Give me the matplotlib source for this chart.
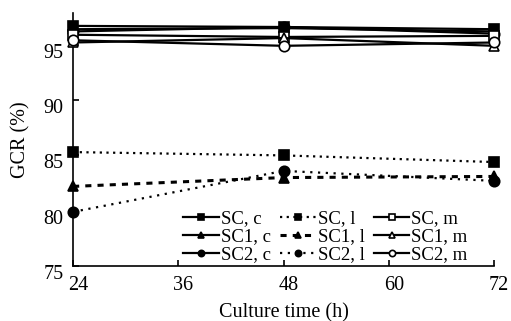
import matplotlib
matplotlib.use('Agg')
import matplotlib.pyplot as plt
from matplotlib.transforms import ScaledTranslation

plt.rcParams['font.family'] = ['Liberation Serif', 'DejaVu Serif']

# data
hours = [24, 48, 72]
sc_c = [96.7, 96.6, 96.4]
sc1_c = [96.4, 96.5, 96.2]
sc2_c = [96.2, 96.6, 96.0]
sc_l = [85.3, 85.0, 84.4]
sc1_l = [82.2, 83.0, 83.1]
sc2_l = [79.9, 83.6, 82.7]
sc_m = [95.9, 95.7, 95.8]
sc1_m = [95.2, 95.6, 94.9]
sc2_m = [95.4, 94.9, 95.2]
xticks = [24, 36, 48, 60, 72]
yticks = [75, 80, 85, 90, 95]

fig = plt.figure(figsize=(5.11, 3.21), dpi=100)
ax = fig.add_axes([0.143, 0.171, 0.824, 0.788])

ms = 7.5
series = [
    (sc_c, 'SC, c', 's', '-', 'k'),
    (sc1_c, 'SC1, c', '^', '-', 'k'),
    (sc2_c, 'SC2, c', 'o', '-', 'k'),
    (sc_l, 'SC, l', 's', (0, (1, 2)), 'k'),
    (sc1_l, 'SC1, l', '^', (0, (2, 2)), 'k'),
    (sc2_l, 'SC2, l', 'o', (0, (1, 2.5)), 'k'),
    (sc_m, 'SC, m', 's', '-', 'w'),
    (sc1_m, 'SC1, m', '^', '-', 'w'),
    (sc2_m, 'SC2, m', 'o', '-', 'w'),
]
for vals, lab, mk, ls, fc in series:
    lw = 1.6
    if lab == 'SC1, l':
        lw = 2.2
    ax.plot(hours, vals, color='k', linestyle=ls, linewidth=lw, marker=mk,
            markersize=ms, markerfacecolor=fc, markeredgecolor='k',
            markeredgewidth=1.2, label=lab, clip_on=False, zorder=3)

ax.set_xlim(24, 72)
ax.set_ylim(75, 97.85)
ax.set_xticks(xticks)
ax.set_yticks(yticks)
ax.spines['top'].set_visible(False)
ax.spines['right'].set_visible(False)
for s in ['left', 'bottom']:
    ax.spines[s].set_linewidth(1.2)
ax.tick_params(direction='in', length=4, width=1.2, labelsize=14.5)
ax.tick_params(axis='x', pad=7)
ax.tick_params(axis='y', pad=7)

# shift tick labels like the original (y labels a bit low, x labels a bit right)
for lbl in ax.get_yticklabels():
    lbl.set_transform(lbl.get_transform() + ScaledTranslation(0, -0.06, fig.dpi_scale_trans))
for lbl in ax.get_xticklabels():
    lbl.set_transform(lbl.get_transform() + ScaledTranslation(0.05, 0, fig.dpi_scale_trans))

ax.set_xlabel('Culture time (h)', fontsize=14.5, labelpad=6)
ax.set_ylabel('GCR (%)', fontsize=14.5, labelpad=9)

ax.legend(ncol=3, loc='lower right', bbox_to_anchor=(0.937, 0.01),
          frameon=False, fontsize=13.5, markerscale=0.6, handlelength=1.9,
          handletextpad=0.1, columnspacing=0.5, labelspacing=0.05,
          borderpad=0, borderaxespad=0)

fig.savefig('out.png', dpi=100)
